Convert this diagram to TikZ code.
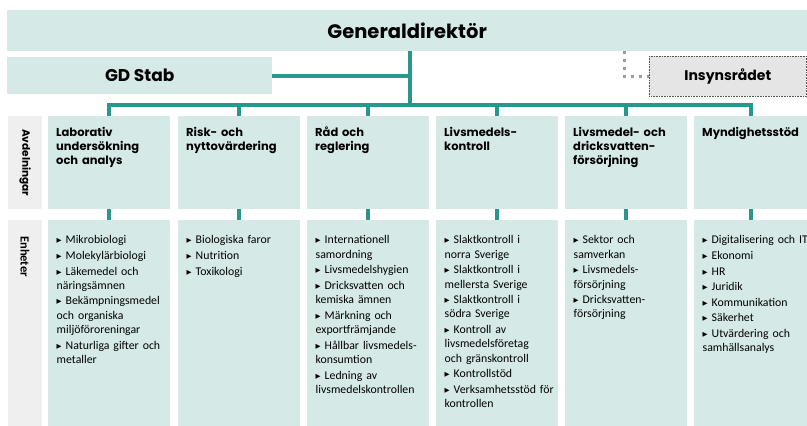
\documentclass[tikz,border=0pt]{standalone}
\usepackage{fontspec}
\setmainfont{Carlito}
\newfontfamily\popfont{Poppins}
\newfontfamily\dvfont{DejaVu Sans}
\definecolor{teal1}{HTML}{2A968C}
\definecolor{boxfill}{HTML}{D5EAE7}
\definecolor{labfill}{HTML}{EFEFEF}
\definecolor{insfill}{HTML}{E5E5E5}
\definecolor{dotgray}{HTML}{9A9A9A}
\definecolor{insline}{HTML}{555555}
\newcommand\tribul{\hbox to 9pt{\raisebox{1pt}{\dvfont\fontsize{6.5}{6.5}\selectfont ▶}\hss}}
\newcommand\bitem[1]{\par\hangindent=9pt\hangafter=1\noindent\tribul #1}
\tikzset{
  colbox/.style={fill=boxfill, draw=none, inner sep=0, anchor=north west, minimum width=122, minimum height=93},
  unitbox/.style={colbox, minimum height=206},
  labbox/.style={fill=labfill, draw=none, inner sep=0, anchor=north west, minimum width=34},
  headtxt/.style={anchor=north west, inner sep=0, text width=118, align=left, font=\popfont\bfseries\fontsize{11.5}{14}\selectfont},
  unittxt/.style={anchor=north west, inner sep=0, text width=118, align=left, font=\fontsize{11.8}{14.3}\selectfont\setlength{\parskip}{1.3pt}},
  tealline/.style={draw=teal1, line width=4},
  dotline/.style={draw=dotgray, line width=3, dash pattern=on 3 off 5},
}
\begin{document}
\begin{tikzpicture}[x=1pt,y=-1pt]
\useasboundingbox (0,0) rectangle (807,426);
% top
\node[fill=boxfill, inner sep=0, anchor=north west, minimum width=800, minimum height=41,
      font=\popfont\bfseries\fontsize{19.5}{22}\selectfont] (gd) at (7,10) {Generaldirektör};
\node[fill=boxfill, inner sep=0, anchor=north west, minimum width=265, minimum height=37,
      font=\popfont\bfseries\fontsize{17}{20}\selectfont] (stab) at (7,57) {GD Stab};
\node[fill=insfill, draw=insline, densely dotted, line width=0.6, inner sep=0, anchor=north west,
      minimum width=157, minimum height=40,
      font=\popfont\bfseries\fontsize{14}{17}\selectfont] (ins) at (649,56) {Insynsrådet};
% row labels
\node[labbox, minimum height=93] (avd) at (8,116) {};
\node[labbox, minimum height=206] (enh) at (8,220) {};
\node[rotate=-90, inner sep=0, font=\popfont\bfseries\fontsize{10.5}{12}\selectfont] (avdt) at (avd.center) {Avdelningar};
\node[rotate=-90, anchor=west, inner sep=0, font=\bfseries\fontsize{12.5}{14}\selectfont] (enht) at (25,236) {Enheter};
% columns
\node[colbox] (c1) at (48,116) {};
\node[colbox] (c2) at (178,116) {};
\node[colbox] (c3) at (307,116) {};
\node[colbox] (c4) at (436,116) {};
\node[colbox] (c5) at (565,116) {};
\node[colbox, minimum width=113] (c6) at (694,116) {};
\node[unitbox] (u1) at (48,220) {};
\node[unitbox] (u2) at (178,220) {};
\node[unitbox] (u3) at (307,220) {};
\node[unitbox] (u4) at (436,220) {};
\node[unitbox] (u5) at (565,220) {};
\node[unitbox, minimum width=113] (u6) at (694,220) {};
% headings
\node[headtxt] (h1) at (56,127) {Laborativ\\undersökning\\och analys};
\node[headtxt] (h2) at (186,127) {Risk- och\\nyttovärdering};
\node[headtxt] (h3) at (315,127) {Råd och\\reglering};
\node[headtxt] (h4) at (444,127) {Livsmedels-\\kontroll};
\node[headtxt] (h5) at (573,127) {Livsmedel- och\\dricksvatten-\\försörjning};
\node[headtxt] (h6) at (702,127) {Myndighetsstöd};
% units
\node[unittxt] (t1) at (56.5,228) {\bitem{Mikrobiologi}\bitem{Molekylärbiologi}\bitem{Läkemedel och\\näringsämnen}\bitem{Bekämpningsmedel\\och organiska\\miljöföroreningar}\bitem{Naturliga gifter och\\metaller}};
\node[unittxt] (t2) at (186.5,228) {\bitem{Biologiska faror}\bitem{Nutrition}\bitem{Toxikologi}};
\node[unittxt] (t3) at (315.5,228) {\bitem{Internationell\\samordning}\bitem{Livsmedelshygien}\bitem{Dricksvatten och\\kemiska ämnen}\bitem{Märkning och\\exportfrämjande}\bitem{Hållbar livsmedels-\\konsumtion}\bitem{Ledning av\\livsmedelskontrollen}};
\node[unittxt] (t4) at (444.5,228) {\bitem{Slaktkontroll i\\norra Sverige}\bitem{Slaktkontroll i\\mellersta Sverige}\bitem{Slaktkontroll i\\södra Sverige}\bitem{Kontroll av\\livsmedelsföretag\\och gränskontroll}\bitem{Kontrollstöd}\bitem{Verksamhetsstöd för\\kontrollen}};
\node[unittxt] (t5) at (573.5,228) {\bitem{Sektor och\\samverkan}\bitem{Livsmedels-\\försörjning}\bitem{Dricksvatten-\\försörjning}};
\node[unittxt] (t6) at (702.5,228) {\bitem{Digitalisering och IT}\bitem{Ekonomi}\bitem{HR}\bitem{Juridik}\bitem{Kommunikation}\bitem{Säkerhet}\bitem{Utvärdering och\\samhällsanalys}};
% connectors
\coordinate (bus) at (410,105);
\coordinate (dx) at (624,0);
\draw[tealline] (gd.south -| bus) -- (bus);
\draw[tealline] (stab.east) -- (stab.east -| bus);
\draw[tealline] (c1.north) -- (bus -| c1.north) -- (bus -| c6.north) -- (c6.north);
\foreach \i in {2,3,4,5} {\draw[tealline] (bus -| c\i.north) -- (c\i.north);}
\foreach \i in {1,...,6} {\draw[tealline] (c\i.south) -- (u\i.north);}
\draw[dotline] (gd.south -| dx) |- (ins.west);
\end{tikzpicture}
\end{document}
